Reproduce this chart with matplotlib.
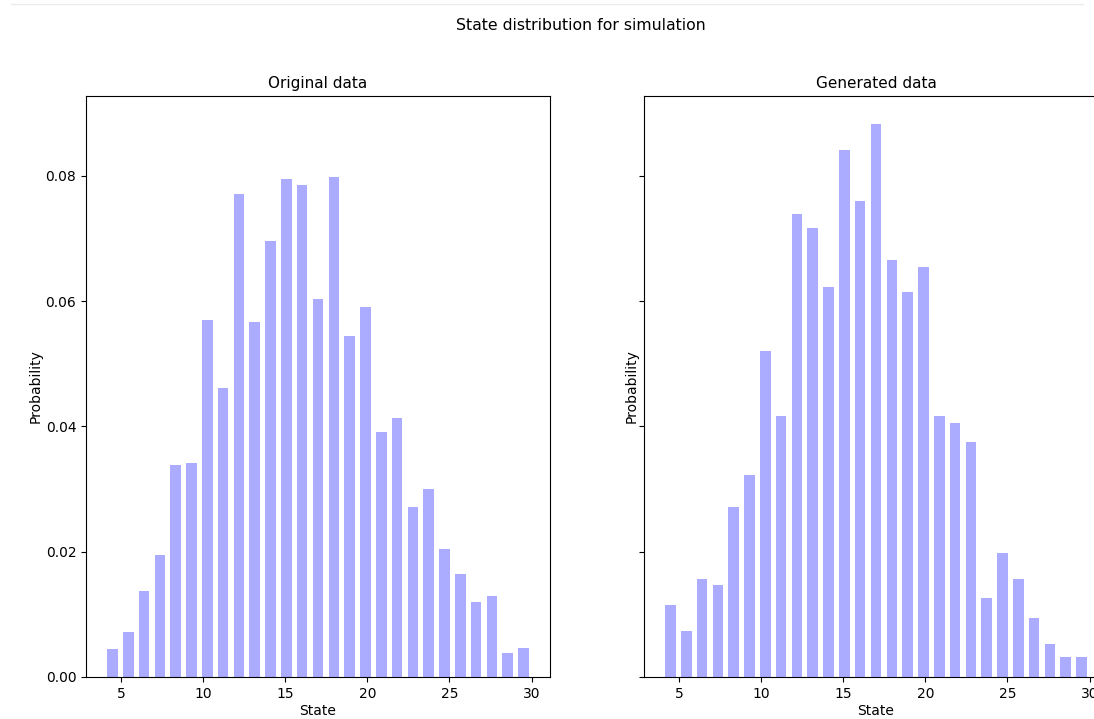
import matplotlib
matplotlib.use("Agg")
import matplotlib.pyplot as plt
from matplotlib.lines import Line2D

states = list(range(4, 31))
original_prob = [0.0045, 0.0072, 0.0138, 0.0195, 0.0338, 0.0342, 0.0569, 0.0461, 0.0770,
                 0.0566, 0.0695, 0.0795, 0.0785, 0.0604, 0.0798, 0.0544, 0.0591, 0.0391,
                 0.0413, 0.0271, 0.0300, 0.0205, 0.0165, 0.0119, 0.0130, 0.0038, 0.0047]
generated_prob = [0.0115, 0.0073, 0.0156, 0.0147, 0.0271, 0.0322, 0.0520, 0.0416, 0.0739,
                  0.0717, 0.0623, 0.0841, 0.0759, 0.0883, 0.0665, 0.0614, 0.0655, 0.0416,
                  0.0405, 0.0375, 0.0126, 0.0198, 0.0156, 0.0094, 0.0053, 0.0032, 0.0032]

fig = plt.figure(figsize=(10.94, 7.19), dpi=100)
W, H = 1094, 719
ax1 = fig.add_axes([86 / W, 42 / H, 464 / W, 581 / H])
ax2 = fig.add_axes([644 / W, 42 / H, 464 / W, 581 / H], sharey=ax1)

for ax, probs, title, ypad in [(ax1, original_prob, "Original data", 1.8),
                               (ax2, generated_prob, "Generated data", 0.5)]:
    ax.hist(states, bins=27, range=(4, 30), weights=probs, rwidth=0.67,
            color="blue", alpha=0.33)
    ax.set_title(title, fontsize=11)
    ax.set_xlabel("State", labelpad=2.5)
    ax.set_ylabel("Probability", labelpad=ypad)
    ax.set_xticks([5, 10, 15, 20, 25, 30])

ax2.tick_params(labelleft=False)
fig.suptitle("State distribution for simulation", fontsize=11.3,
             x=581 / W, y=1 - 26 / H, va="center")
fig.add_artist(Line2D([0.01, 0.99], [1 - 4 / H, 1 - 4 / H], color="#ececec", lw=1))

fig.savefig("out.png", dpi=100)
